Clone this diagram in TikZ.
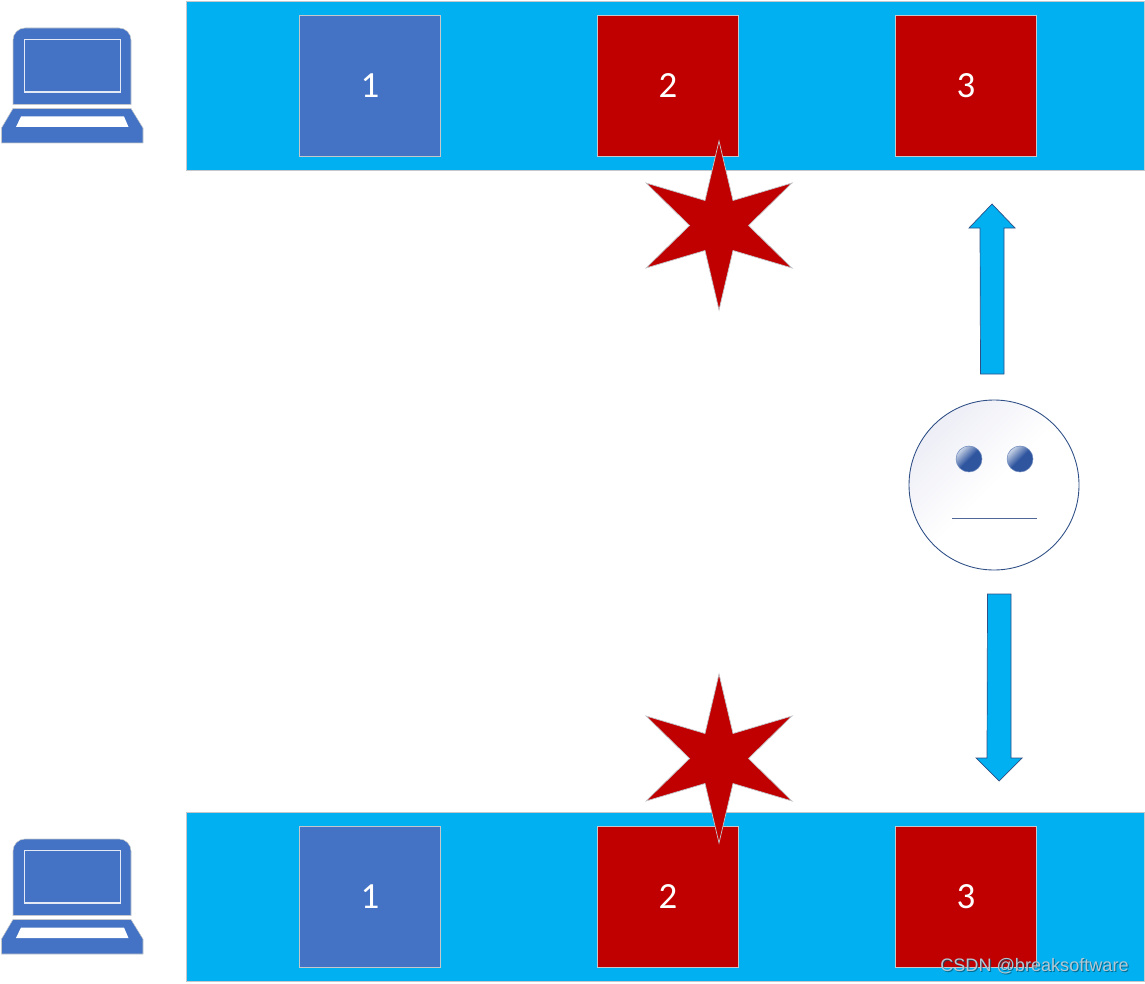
\documentclass[tikz,border=0pt]{standalone}
\usepackage{fontspec}
\setmainfont{Carlito}
\newfontfamily\markfont{Liberation Sans}
\definecolor{band}{HTML}{00B0F0}
\definecolor{okblue}{HTML}{4472C4}
\definecolor{badred}{HTML}{C00000}
\definecolor{edge}{HTML}{C4C8CC}
\definecolor{faceln}{HTML}{2F4F86}
\definecolor{facetop}{HTML}{EDEEF6}
\definecolor{eyeblue}{HTML}{2F559F}
\definecolor{markgr}{HTML}{B4C6D2}
\tikzset{
  bandbox/.style={draw=edge,line width=0.4pt,fill=band,minimum width=19.16cm,
        minimum height=3.38cm,inner sep=0pt},
  arrowbox/.style={draw=faceln,line width=0.4pt,fill=band},
  burstfill/.style={draw=edge,line width=0.4pt,fill=badred},
}
\newcommand{\slotbox}[4]{%
  \node[draw=edge,line width=0.4pt,fill=#3,minimum size=2.82cm,inner sep=0pt,
        text=white,font=\fontsize{21}{21}\selectfont]
       (#1) at #2 {#4};}
\newcommand{\laptop}[1]{%
  \begin{scope}[shift={#1}]
    \fill[okblue,draw=edge,line width=0.3pt]
      (13,104.5) [rounded corners=0.24cm] -- (13,28) -- (131,28) [sharp corners]
      -- (131,104.5) -- cycle;
    \draw[white!85!okblue,line width=0.6pt] (24.5,39.5) rectangle (120.5,92);
    \fill[okblue,draw=edge,line width=0.3pt] (13,108.5) -- (131,108.5) -- (143,128)
      -- (143,143) -- (1.5,143) -- (1.5,128) -- cycle;
    \fill[white] (21,116.5) -- (124,116.5) -- (128.5,127) -- (16,127) -- cycle;
  \end{scope}}
\newcommand{\burst}[1]{%
  \draw[burstfill,shift={#1}] (0,-84.5) -- (14,-25) -- (73,-42.5) -- (29.5,0)
    -- (73,42.5) -- (14,25) -- (0,84.5) -- (-14,25) -- (-73,42.5) -- (-29.5,0)
    -- (-73,-42.5) -- (-14,-25) -- cycle;}

\begin{document}
\begin{tikzpicture}[x=0.02cm,y=-0.02cm]
  \useasboundingbox (0,0) rectangle (1145,983);

  % Top row
  \laptop{(0,0)}
  \node[bandbox] (topband) at (665,85.5) {};
  \slotbox{topa}{(370,86)}{okblue}{1}
  \slotbox{topb}{(668,86)}{badred}{2}
  \slotbox{topc}{(966,86)}{badred}{3}
  \burst{(719,225.5)}

  % Bottom row
  \laptop{(0,811)}
  \node[bandbox] (lowband) at (665,897) {};
  \slotbox{lowa}{(370,897)}{okblue}{1}
  \slotbox{lowb}{(668,897)}{badred}{2}
  \slotbox{lowc}{(966,897)}{badred}{3}
  \burst{(719,758.5)}

  % Arrows
  \draw[arrowbox] (980.5,374) -- (980,228) -- (969,228) -- (992,204) -- (1015,228)
    -- (1004,228) -- (1004,374) -- cycle;
  \draw[arrowbox] (987.5,594) -- (987,758) -- (976,758) -- (999,781) -- (1022,758)
    -- (1011,758) -- (1011,594) -- cycle;

  % Face
  \shade[top color=facetop,bottom color=white,middle color=white,
         shading angle=45] (994,485) circle (85);
  \draw[faceln,line width=0.5pt] (994,485) circle (85);
  \foreach \x/\n in {969/eyea,1020/eyeb}{
    \node[circle,draw=eyeblue!70!white,line width=0.3pt,minimum size=0.52cm,inner sep=0pt,
          top color=white!75!eyeblue,bottom color=eyeblue,middle color=eyeblue,
          shading angle=45] (\n) at (\x,459) {};}
  \coordinate (mouthl) at (952,518.5);
  \coordinate (mouthr) at (1037,518.5);
  \draw[faceln!85!white,line width=0.6pt] (mouthl) -- (mouthr);

  % Watermark
  \node[anchor=east,inner sep=0pt,text=black!55!band,opacity=0.7,
        font=\markfont\fontsize{10.3}{11}\selectfont] (markbg) at (1130,967)
       {CSDN @breaksoftware};
  \node[anchor=east,inner sep=0pt,text=markgr,
        font=\markfont\fontsize{10.3}{11}\selectfont] (mark) at (1129,966)
       {CSDN @breaksoftware};
\end{tikzpicture}
\end{document}
